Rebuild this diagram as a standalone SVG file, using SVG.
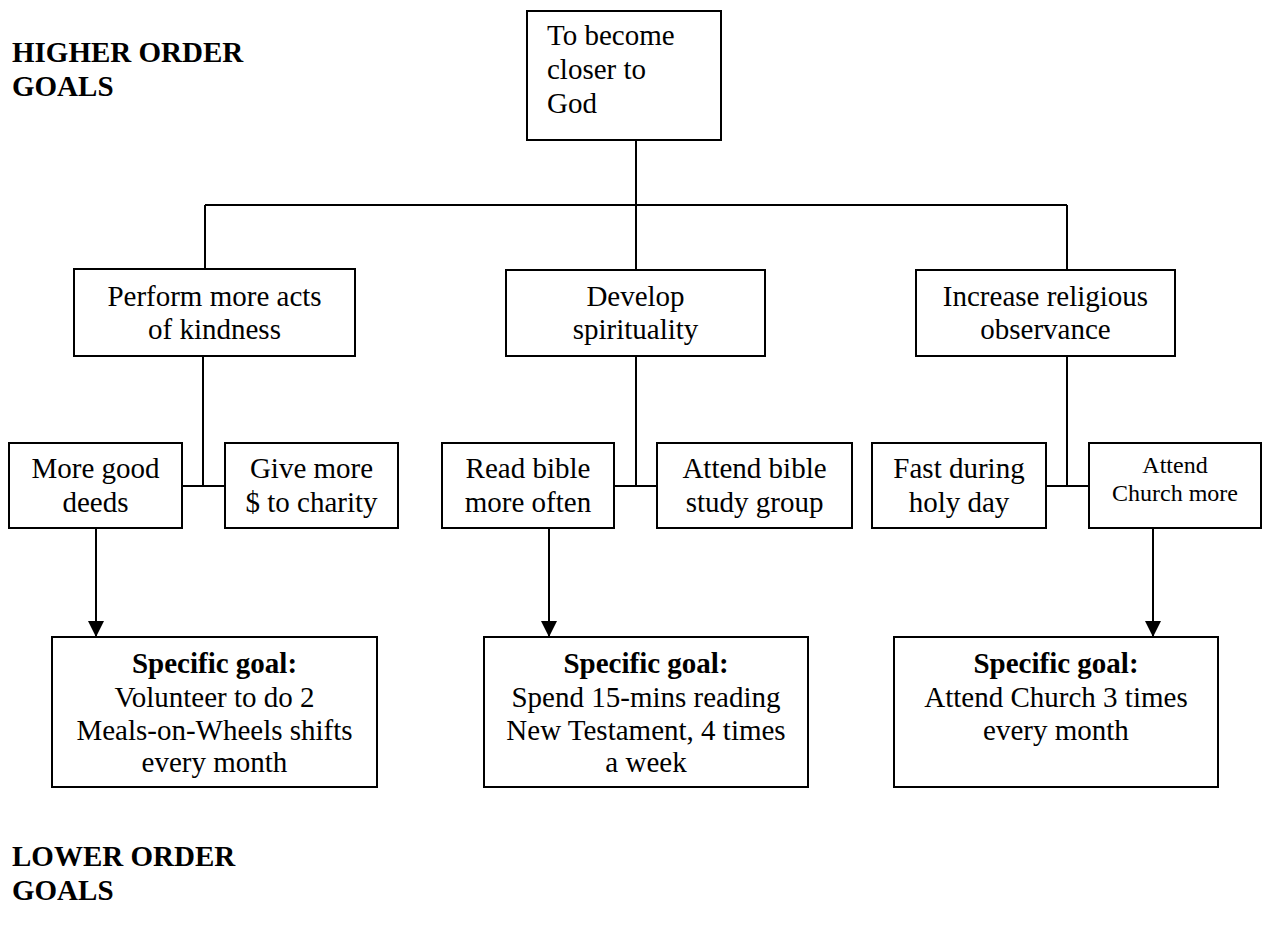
<svg xmlns="http://www.w3.org/2000/svg" width="1263" height="926" viewBox="0 0 1263 926">
  <style>
    .box { fill: #fff; stroke: #000; stroke-width: 2; }
    .wire { fill: none; stroke: #000; stroke-width: 2; }
    text { font-family: "Liberation Serif", "Times New Roman", serif; font-size: 29px; fill: #000; }
    .c { text-anchor: middle; }
    .b { font-weight: bold; }
    .sm { font-size: 24px; }
  </style>
  <defs>
    <marker id="arrow" markerWidth="8" markerHeight="8" refX="8" refY="4" orient="auto" markerUnits="strokeWidth">
      <path d="M0,0 L8,4 L0,8 Z" fill="#000"/>
    </marker>
  </defs>
  <rect width="1263" height="926" fill="#fff"/>

  <!-- level labels -->
  <g id="label-higher">
    <text class="b" x="12" y="62">HIGHER ORDER</text>
    <text class="b" x="12" y="96">GOALS</text>
  </g>
  <g id="label-lower">
    <text class="b" x="12" y="866">LOWER ORDER</text>
    <text class="b" x="12" y="900">GOALS</text>
  </g>

  <!-- connectors -->
  <g id="connectors">
    <path class="wire" d="M636,140 V205 M205,205 H1067 M205,205 V269 M636,205 V270 M1067,205 V270"/>
    <path class="wire" d="M203,356 V486 M182,486 H225"/>
    <path class="wire" d="M636,356 V486 M614,486 H657"/>
    <path class="wire" d="M1067,356 V486 M1046,486 H1089"/>
    <line class="wire" x1="96" y1="528" x2="96" y2="637" marker-end="url(#arrow)"/>
    <line class="wire" x1="549" y1="528" x2="549" y2="637" marker-end="url(#arrow)"/>
    <line class="wire" x1="1153" y1="528" x2="1153" y2="637" marker-end="url(#arrow)"/>
  </g>

  <!-- top goal -->
  <g id="closer-to-god">
    <rect class="box" x="527" y="11" width="194" height="129"/>
    <text x="547" y="45">To become</text>
    <text x="547" y="79">closer to</text>
    <text x="547" y="113">God</text>
  </g>

  <!-- mid-level goals -->
  <g id="acts-of-kindness">
    <rect class="box" x="74" y="269" width="281" height="87"/>
    <text class="c" x="214.5" y="306">Perform more acts</text>
    <text class="c" x="214.5" y="339">of kindness</text>
  </g>
  <g id="spirituality">
    <rect class="box" x="506" y="270" width="259" height="86"/>
    <text class="c" x="635.5" y="306">Develop</text>
    <text class="c" x="635.5" y="339">spirituality</text>
  </g>
  <g id="religious-observance">
    <rect class="box" x="916" y="270" width="259" height="86"/>
    <text class="c" x="1045.5" y="306">Increase religious</text>
    <text class="c" x="1045.5" y="339">observance</text>
  </g>

  <!-- sub-goals -->
  <g id="good-deeds">
    <rect class="box" x="9" y="443" width="173" height="85"/>
    <text class="c" x="95.5" y="478">More good</text>
    <text class="c" x="95.5" y="512">deeds</text>
  </g>
  <g id="charity">
    <rect class="box" x="225" y="443" width="173" height="85"/>
    <text class="c" x="311.5" y="478">Give more</text>
    <text class="c" x="311.5" y="512">$ to charity</text>
  </g>
  <g id="read-bible">
    <rect class="box" x="442" y="443" width="172" height="85"/>
    <text class="c" x="528" y="478">Read bible</text>
    <text class="c" x="528" y="512">more often</text>
  </g>
  <g id="study-group">
    <rect class="box" x="657" y="443" width="195" height="85"/>
    <text class="c" x="754.5" y="478">Attend bible</text>
    <text class="c" x="754.5" y="512">study group</text>
  </g>
  <g id="fast-holy-day">
    <rect class="box" x="872" y="443" width="174" height="85"/>
    <text class="c" x="959" y="478">Fast during</text>
    <text class="c" x="959" y="512">holy day</text>
  </g>
  <g id="attend-church">
    <rect class="box" x="1089" y="443" width="172" height="85"/>
    <text class="c sm" x="1175" y="473">Attend</text>
    <text class="c sm" x="1175" y="501">Church more</text>
  </g>

  <!-- specific goals -->
  <g id="specific-meals">
    <rect class="box" x="52" y="637" width="325" height="150"/>
    <text class="c b" x="214.5" y="673">Specific goal:</text>
    <text class="c" x="214.5" y="707">Volunteer to do 2</text>
    <text class="c" x="214.5" y="740">Meals-on-Wheels shifts</text>
    <text class="c" x="214.5" y="772">every month</text>
  </g>
  <g id="specific-reading">
    <rect class="box" x="484" y="637" width="324" height="150"/>
    <text class="c b" x="646" y="673">Specific goal:</text>
    <text class="c" x="646" y="707">Spend 15-mins reading</text>
    <text class="c" x="646" y="740">New Testament, 4 times</text>
    <text class="c" x="646" y="772">a week</text>
  </g>
  <g id="specific-church">
    <rect class="box" x="894" y="637" width="324" height="150"/>
    <text class="c b" x="1056" y="673">Specific goal:</text>
    <text class="c" x="1056" y="707">Attend Church 3 times</text>
    <text class="c" x="1056" y="740">every month</text>
  </g>
</svg>
